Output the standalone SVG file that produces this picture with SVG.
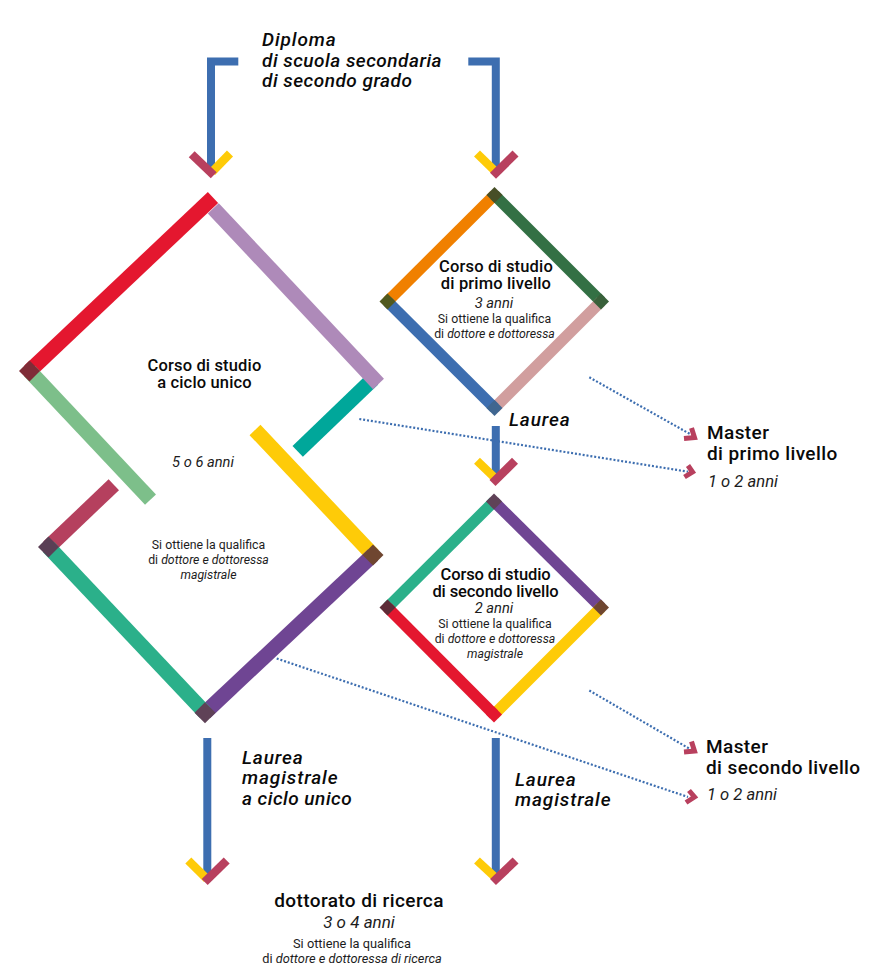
<svg xmlns="http://www.w3.org/2000/svg" width="880" height="980" viewBox="0 0 880 980">
<style>
text{font-family:"Roboto","Liberation Sans",sans-serif;fill:#0a0a0a}
.h{font-size:16.5px;font-weight:500;letter-spacing:.15px;text-anchor:middle}
.d{font-size:14.7px;font-style:italic;text-anchor:middle;fill:#1c1c1c}
.dl{font-size:16.6px;font-style:italic;fill:#1c1c1c}
.s{font-size:12.3px;text-anchor:middle;fill:#1c1c1c}
.sl{font-size:12.8px;text-anchor:middle;fill:#1c1c1c}
.i{font-style:italic}
.b{font-size:19px;font-weight:500;font-style:italic;letter-spacing:.5px}
.w{letter-spacing:.9px}
.m{font-size:19px;font-weight:500;letter-spacing:.4px}
.bar{fill:none;stroke-width:15}
.thin{fill:none;stroke-width:11.3}
.flow{fill:none;stroke:#3d6eb0;stroke-width:8}
.chev{fill:none;stroke-width:8.5}
.dot{fill:none;stroke:#3d6eb0;stroke-width:2.2;stroke-dasharray:2 1.9}
.head{fill:none;stroke:#b8405e;stroke-width:5}
</style>
<rect width="880" height="980" fill="#fff"/>
<g id="connectors">
<path class="flow" d="M238.3 61.500H211V172"/>
<path class="flow" d="M468.300 61.500H495.800V172"/>
<path class="flow" d="M495.800 426V480"/>
<path class="flow" d="M207.300 738V878"/>
<path class="flow" d="M495.800 738V878"/>
<path class="chev" stroke="#fecb08" d="M230 153.500L212 172"/>
<path class="chev" stroke="#b8405e" d="M191.700 154.200L213.700 175.200"/>
<path class="chev" stroke="#fecb08" d="M477 153.500L497 173"/>
<path class="chev" stroke="#b8405e" d="M515.500 153.500L493 175.700"/>
<path class="chev" stroke="#fecb08" d="M477 460.800L497 480"/>
<path class="chev" stroke="#b8405e" d="M515 460.800L492.500 483"/>
<path class="chev" stroke="#fecb08" d="M188.300 860.500L207 879"/>
<path class="chev" stroke="#b8405e" d="M226.700 860.500L204.700 882"/>
<path class="chev" stroke="#fecb08" d="M477 860.500L497 879"/>
<path class="chev" stroke="#b8405e" d="M515.600 860.500L493 882"/>
<path class="dot" d="M589.300 377.300L691.700 435"/>
<path class="dot" d="M359.300 419L688 471.700"/>
<path class="dot" d="M589.300 690.500L691.700 750"/>
<path class="dot" d="M276.700 658.500L688 797"/>
<path class="head" d="M684 438.500L694.500 437.500L691.500 428"/>
<path class="head" d="M688 465.500L692.500 472L684.500 477"/>
<path class="head" d="M684 752L694.500 751L691.500 741.500"/>
<path class="head" d="M689 790.500L694.500 797L686 802.500"/>
</g>
<g id="corso-ciclo-unico">
<path class="bar" stroke="#00a79a" d="M297.700 451.300L373 379"/>
<path class="bar" stroke="#ae8ab9" d="M213.300 208.300L378.500 384"/>
<path class="bar" stroke="#e4172f" d="M29.500 371L213 197.500"/>
<path class="bar" stroke="#7dbf8a" d="M29.500 371L150.500 499.700"/>
<path class="bar" stroke="#b5405e" d="M48.500 547L113.800 484.700"/>
<path class="bar" stroke="#fecb08" d="M255 430L373 555"/>
<path class="bar" stroke="#6f4593" d="M373 555L205 712.700"/>
<path class="bar" stroke="#2bb08a" d="M48.500 547L205 712.700"/>
<path fill="#7f2c37" d="M29.500 360.500L40 371L29.500 381.500L19 371Z"/>
<path fill="#5a3f55" d="M48.500 536.500L59 547L48.500 557.500L38 547Z"/>
<path fill="#6f4630" d="M373 544.500L383.500 555L373 565.500L362.500 555Z"/>
<path fill="#5f4257" d="M205 702.200L215.500 712.700L205 723.200L194.500 712.700Z"/>
<text class="h" x="204.500" y="371">Corso di studio</text>
<text class="h" x="204.500" y="388">a ciclo unico</text>
<text class="d" x="203" y="467">5 o 6 anni</text>
<text class="s" x="208.500" y="549">Si ottiene la qualifica</text>
<text class="s" x="208.500" y="564">di <tspan class="i">dottore e dottoressa</tspan></text>
<text class="s" x="208.500" y="579"><tspan class="i">magistrale</tspan></text>
</g>
<g id="corso-primo-livello">
<path class="thin" stroke="#f08000" d="M387.500 301.500L494.500 195"/>
<path class="thin" stroke="#337044" d="M494.500 195L601 301.500"/>
<path class="thin" stroke="#d19e9e" d="M601 301.500L494.500 408"/>
<path class="thin" stroke="#3d6eb0" d="M387.500 301.500L494.500 408"/>
<path fill="#474f27" d="M494.500 187L502.500 195L494.500 203L486.500 195Z"/>
<path fill="#39603a" d="M601 293.500L609 301.500L601 309.500L593 301.500Z"/>
<path fill="#3f6690" d="M494.500 400L502.500 408L494.500 416L486.500 408Z"/>
<path fill="#50591f" d="M387.500 293.500L395.500 301.500L387.500 309.500L379.500 301.500Z"/>
<text class="h" x="496" y="272">Corso di studio</text>
<text class="h" x="496" y="289">di primo livello</text>
<text class="d" x="494" y="308">3 anni</text>
<text class="s" x="494.500" y="323">Si ottiene la qualifica</text>
<text class="s" x="494.500" y="338">di <tspan class="i">dottore e dottoressa</tspan></text>
</g>
<g id="corso-secondo-livello">
<path class="thin" stroke="#2bb08a" d="M387.500 607.500L494 501.500"/>
<path class="thin" stroke="#6f4593" d="M494 501.500L601 607.500"/>
<path class="thin" stroke="#fecb08" d="M601 607.500L494 714.500"/>
<path class="thin" stroke="#e4172f" d="M387.500 607.500L494 714.500"/>
<path fill="#5f4257" d="M494 493.500L502 501.500L494 509.500L486 501.500Z"/>
<path fill="#6f4630" d="M601 599.500L609 607.500L601 615.500L593 607.500Z"/>
<path fill="#e3172f" d="M494 706.500L502 714.500L494 722.500L486 714.500Z"/>
<path fill="#5e2c37" d="M387.500 599.500L395.500 607.500L387.500 615.500L379.500 607.500Z"/>
<text class="h" style="letter-spacing:-.1px" x="495.500" y="580">Corso di studio</text>
<text class="h" style="letter-spacing:-.1px" x="495.500" y="597">di secondo livello</text>
<text class="d" x="494" y="613">2 anni</text>
<text class="s" x="495" y="628">Si ottiene la qualifica</text>
<text class="s" x="495" y="643">di <tspan class="i">dottore e dottoressa</tspan></text>
<text class="s" x="495" y="658"><tspan class="i">magistrale</tspan></text>
</g>
<g id="diploma">
<text class="b w" x="262" y="46">Diploma</text>
<text class="b" x="262" y="66.500">di scuola secondaria</text>
<text class="b" x="262" y="87">di secondo grado</text>
</g>
<g id="laurea"><text class="b w" x="509" y="426">Laurea</text></g>
<g id="laurea-magistrale-ciclo-unico">
<text class="b w" x="242" y="764">Laurea</text>
<text class="b w" x="242" y="784">magistrale</text>
<text class="b" x="242" y="805">a ciclo unico</text>
</g>
<g id="laurea-magistrale">
<text class="b w" x="515" y="786">Laurea</text>
<text class="b w" x="515" y="806">magistrale</text>
</g>
<g id="master-primo">
<text class="m" x="707" y="439">Master</text>
<text class="m" x="707" y="460">di primo livello</text>
<text class="dl" x="708" y="487">1 o 2 anni</text>
</g>
<g id="master-secondo">
<text class="m" x="706" y="753">Master</text>
<text class="m" x="706" y="774">di secondo livello</text>
<text class="dl" x="707" y="800">1 o 2 anni</text>
</g>
<g id="dottorato">
<text class="m" style="text-anchor:middle" x="359" y="907">dottorato di ricerca</text>
<text class="d" style="font-size:17px" x="359" y="928">3 o 4 anni</text>
<text class="sl" x="352" y="948">Si ottiene la qualifica</text>
<text class="sl" x="352" y="963">di <tspan class="i">dottore e dottoressa di ricerca</tspan></text>
</g>
</svg>
